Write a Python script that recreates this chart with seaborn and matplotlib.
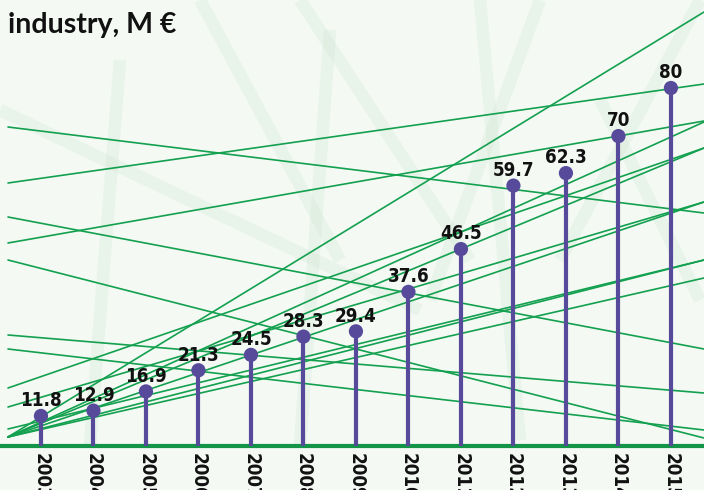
import matplotlib
matplotlib.use("Agg")
import matplotlib.pyplot as plt
import seaborn as sns
import pandas as pd

years = ["2003", "2004", "2005", "2006", "2007", "2008", "2009",
         "2010", "2011", "2012", "2013", "2014", "2015"]
values = [11.8, 12.9, 16.9, 21.3, 24.5, 28.3, 29.4, 37.6, 46.5, 59.7, 62.3, 70, 80]
value_labels = ["11.8", "12.9", "16.9", "21.3", "24.5", "28.3", "29.4",
                "37.6", "46.5", "59.7", "62.3", "70", "80"]
title = "industry, M €"

df = pd.DataFrame({"pos": range(len(years)), "year": years, "value": values})

sns.set_theme(style="white")
plt.rcParams["font.family"] = ["DejaVu Sans"]

W, H = 704, 490
fig = plt.figure(figsize=(W / 100, H / 100), dpi=100)
fig.patch.set_facecolor("#f4f9f4")

ax = fig.add_axes([0, (H - 446) / H, 1, 446 / H])
ax.set_facecolor("none")
ymin, ymax = 5.55, 98.3
ax.set_ylim(ymin, ymax)
ax.set_xlim(-0.78, 12.63)


def P(x, y):
    return x / W, 1 - y / H


# faint background strokes (decoration)
soft = [((200, 0), (340, 260)), ((300, 0), (470, 260)), ((0, 110), (420, 310)),
        ((540, 0), (430, 300)), ((700, 0), (560, 260)), ((120, 60), (90, 446)),
        ((330, 30), (300, 446)), ((600, 100), (700, 300)), ((480, 0), (520, 440))]
for (x0, y0), (x1, y1) in soft:
    a, b = P(x0, y0), P(x1, y1)
    fig.add_artist(plt.Line2D([a[0], b[0]], [a[1], b[1]], transform=fig.transFigure,
                              color="#d3e8d7", lw=9, alpha=0.35, zorder=0,
                              solid_capstyle="butt"))

# decorative thin green lines
deco = [((8, 127), (704, 213)), ((8, 217), (704, 349)), ((8, 260), (704, 438)),
        ((8, 335), (704, 393)), ((8, 349), (704, 430)),
        ((8, 183), (704, 84)), ((8, 243), (704, 121)),
        ((8, 437), (704, 12)), ((8, 437), (704, 122)), ((8, 437), (704, 148)),
        ((8, 437), (704, 202)), ((8, 437), (704, 260)), ((8, 437), (704, 278)),
        ((8, 388), (704, 148)), ((8, 407), (704, 202)), ((8, 429), (704, 260))]
for (x0, y0), (x1, y1) in deco:
    a, b = P(x0, y0), P(x1, y1)
    ax.plot([a[0], b[0]], [a[1], b[1]], transform=fig.transFigure,
            color="#13a04f", lw=1.2, zorder=1, clip_on=True)

# baseline
ax.axhline(ymin, color="#149447", lw=3, zorder=2, clip_on=False)

purple = "#574a9b"
ax.vlines(df["pos"], ymin - 0.3, df["value"], color=purple, lw=3, zorder=3)
sns.scatterplot(data=df, x="pos", y="value", ax=ax, s=105, color=purple,
                edgecolor="none", zorder=4, legend=False)

for i, (v, lab) in enumerate(zip(values, value_labels)):
    ax.annotate(lab, (i, v), xytext=(0, 7), textcoords="offset points",
                ha="center", va="baseline", fontsize=13.5, fontweight="bold",
                fontstretch="condensed", color="#111111", zorder=5)

ax.set_xticks(df["pos"])
ax.set_xticklabels(years, rotation=-90, fontsize=13.5, fontweight="bold",
                   fontstretch="condensed", color="#111111", va="top", ha="center")
ax.tick_params(axis="x", length=0, pad=5)
ax.set_yticks([])
ax.set_xlabel("")
ax.set_ylabel("")
for s in ax.spines.values():
    s.set_visible(False)

fig.text(8 / W, 1 - 33 / H, title, fontsize=20.5, fontweight="bold",
         family=["Lato", "DejaVu Sans"], color="#111111", va="baseline", ha="left")

fig.savefig("out.png", dpi=100, facecolor=fig.get_facecolor())
